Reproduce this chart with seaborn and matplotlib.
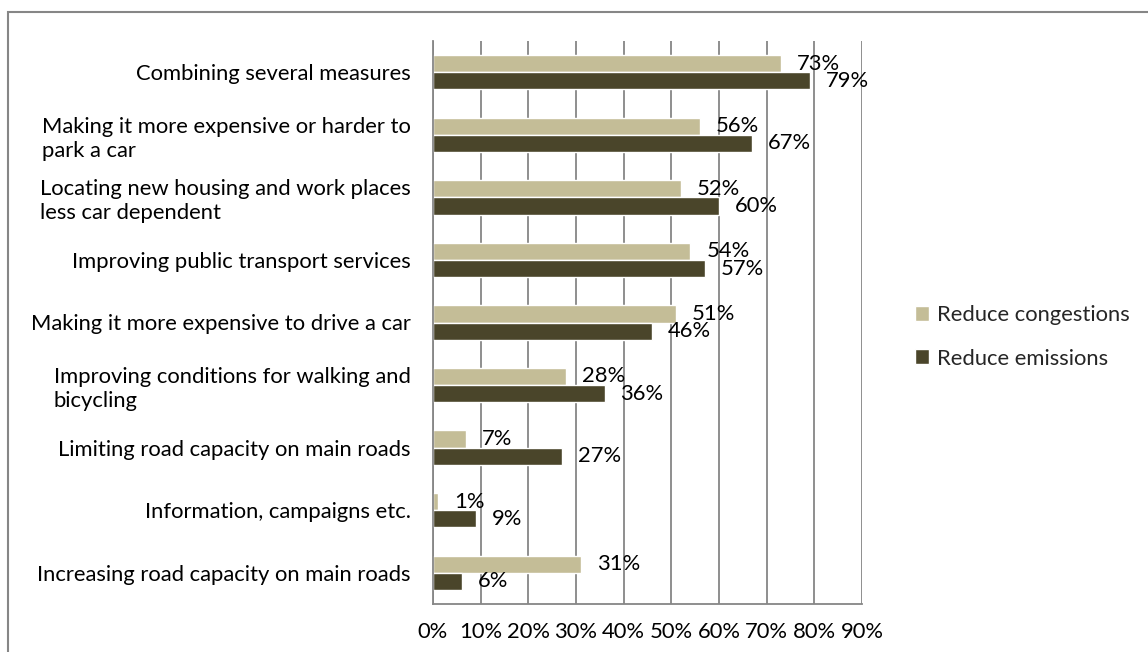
import matplotlib
matplotlib.use("Agg")
import matplotlib.pyplot as plt
import seaborn as sns
import pandas as pd
from matplotlib.patches import Rectangle
from matplotlib.ticker import FixedLocator, PercentFormatter

categories = [
    "Combining several measures",
    "Making it more expensive or harder to\npark a car",
    "Locating new housing and work places\nless car dependent",
    "Improving public transport services",
    "Making it more expensive to drive a car",
    "Improving conditions for walking and\nbicycling",
    "Limiting road capacity on main roads",
    "Information, campaigns etc.",
    "Increasing road capacity on main roads",
]
congestions = [73, 56, 52, 54, 51, 28, 7, 1, 31]
emissions = [79, 67, 60, 57, 46, 36, 27, 9, 6]
series_names = ["Reduce congestions", "Reduce emissions"]
colors = ["#C4BD97", "#4A452A"]
xticks = [0, 10, 20, 30, 40, 50, 60, 70, 80, 90]

df = pd.DataFrame({
    "category": categories * 2,
    "value": congestions + emissions,
    "series": [series_names[0]] * len(categories) + [series_names[1]] * len(categories),
})

sns.set_theme(style="white")
plt.rcParams["font.family"] = ["Lato", "DejaVu Sans"]
FS = 15.8

fig = plt.figure(figsize=(11.48, 6.52), dpi=100)
ax = fig.add_axes([433 / 1148, 1 - 604 / 652, (862 - 433) / 1148, (604 - 41) / 652])

sns.barplot(data=df, y="category", x="value", hue="series", order=categories,
            hue_order=series_names, palette=colors, orient="h", width=0.55,
            saturation=1, ax=ax, legend=True)

ax.set_xlim(0, 90)
ax.set_ylim(len(categories) - 0.5, -0.5)
ax.set_xticks(xticks)
ax.xaxis.set_major_formatter(PercentFormatter(decimals=0))
ax.set_xlabel("")
ax.set_ylabel("")
ax.grid(axis="x", color="#868686", linewidth=1.3)
ax.set_axisbelow(True)
for s in ["top", "right"]:
    ax.spines[s].set_visible(False)
for s in ["left", "bottom"]:
    ax.spines[s].set_color("#868686")
    ax.spines[s].set_linewidth(1.3)

ax.tick_params(axis="y", which="major", length=0, pad=16, labelsize=FS, labelcolor="black")
ax.yaxis.set_minor_locator(FixedLocator([i - 0.5 for i in range(len(categories) + 1)]))
ax.tick_params(axis="y", which="minor", length=5, width=1.3, color="#868686", direction="out")
ax.tick_params(axis="x", which="major", length=5, width=1.3, color="#868686", direction="out",
               pad=8, labelsize=FS, labelcolor="black")
for lbl in ax.get_yticklabels():
    lbl.set_multialignment("left")
    lbl.set_linespacing(1.25)

for container in ax.containers:
    for bar in container:
        w = bar.get_width()
        ax.annotate(f"{w:.0f}%", xy=(w, bar.get_y() + bar.get_height() / 2),
                    xytext=(11.5, 0), textcoords="offset points",
                    ha="left", va="center", fontsize=FS, color="black")

handles, labels = ax.get_legend_handles_labels()
ax.get_legend().remove()
fig.legend(handles, labels, loc="center left", bbox_to_anchor=(915 / 1148, 1 - 337 / 652),
           frameon=False, fontsize=FS, handlelength=0.65, handleheight=0.65,
           handletextpad=0.35, labelspacing=1.05, borderpad=0, borderaxespad=0)

fig.patches.append(Rectangle((8 / 1148, -0.01), 1.05, 1 - 12 / 652 + 0.01,
                             transform=fig.transFigure, fill=False,
                             edgecolor="#868686", linewidth=1.5))

fig.savefig("out.png", dpi=100)
